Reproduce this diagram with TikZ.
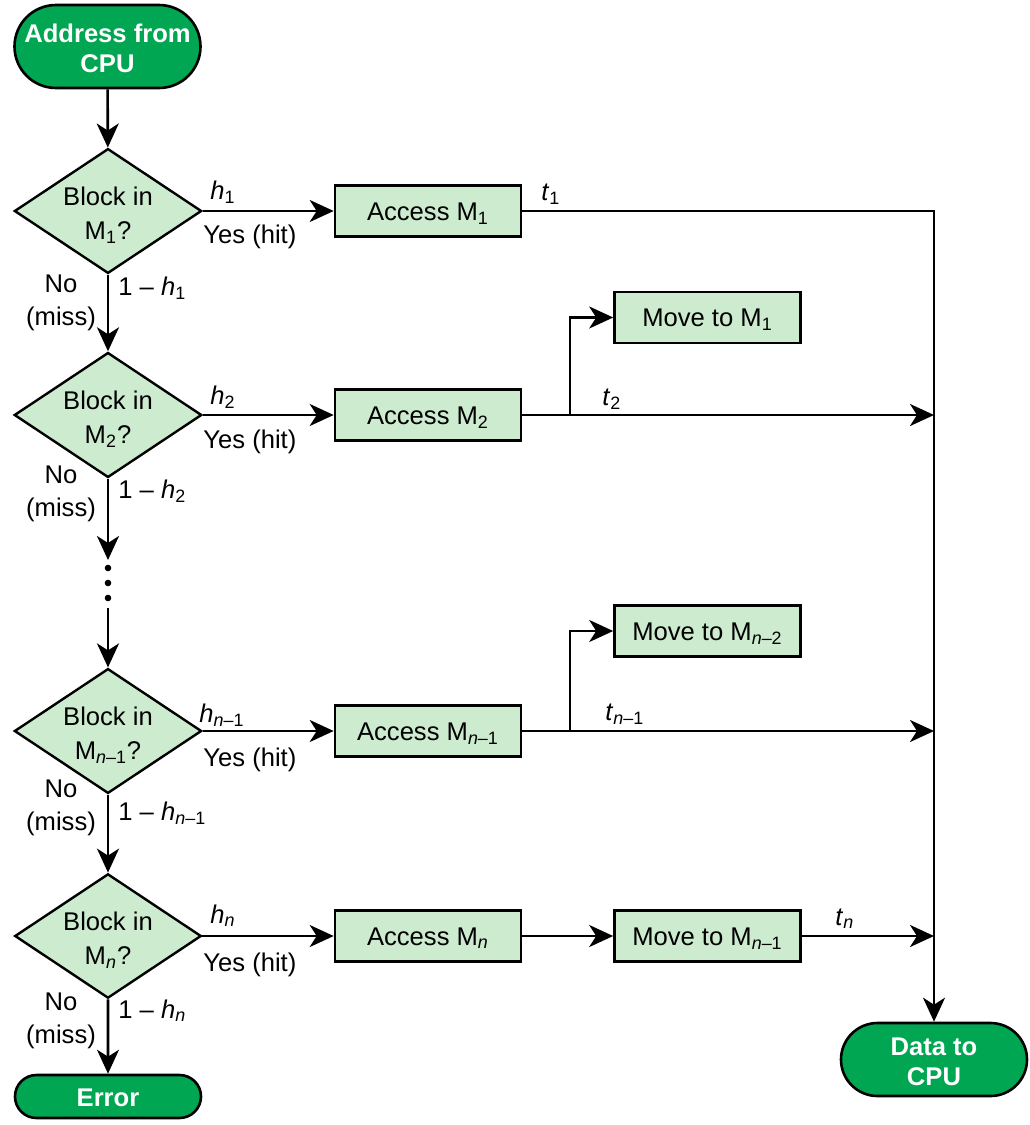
\documentclass[tikz,border=0pt]{standalone}
\usepackage{fontspec}
\setmainfont{Liberation Sans}
\usepackage{xcolor}
\usepackage{tikz}
\usetikzlibrary{shapes.geometric,shapes.misc,arrows.meta}
\definecolor{termgreen}{RGB}{0,166,81}
\definecolor{boxgreen}{RGB}{204,235,207}

\begin{document}
\begin{tikzpicture}[x=0.5pt,y=-0.5pt,
  font=\fontsize{12.8}{16.5}\selectfont,
  term/.style={rounded rectangle, draw=black, line width=1.3pt, fill=termgreen, text=white,
    font=\fontsize{12.8}{15}\selectfont\bfseries, align=center, minimum width=93pt, inner sep=0pt},
  decision/.style={diamond, draw=black, line width=1.2pt, fill=boxgreen, align=center, aspect=1.5,
    inner sep=0pt, minimum width=93pt, minimum height=61.5pt, font=\fontsize{12.8}{17}\selectfont},
  process/.style={rectangle, draw=black, line width=1.3pt, fill=boxgreen, text height=9pt, text depth=0pt,
    minimum width=93pt, minimum height=25.5pt, inner sep=0pt},
  lbl/.style={inner sep=0pt, anchor=base west},
  nolbl/.style={inner sep=0pt, align=center},
  arr/.style={line width=1.3pt, -{Stealth[length=12pt,width=11pt,inset=3.5pt]}}]
  \useasboundingbox (0,0) rectangle (1029,1125);

  % start and end
  \node[term, minimum height=41.5pt] (start) at (107.5,46.5) {\rule{0pt}{11.5pt}Address from\\CPU};
  \node[term, minimum height=36.5pt] (data) at (934,1059.5) {\rule{0pt}{11.5pt}Data to\\CPU};
  \node[term, minimum height=21.5pt, text height=10pt, text depth=0pt] (error) at (108,1096.5) {Error};

  % decisions
  \node[decision] (d1) at (108,211) {\rule{0pt}{13.5pt}Block in\\M\textsubscript{1}?};
  \node[decision] (d2) at (108,415) {\rule{0pt}{13.5pt}Block in\\M\textsubscript{2}?};
  \node[decision] (d3) at (108,731) {\rule{0pt}{13.5pt}Block in\\M\textsubscript{\textit{n}–1}?};
  \node[decision] (d4) at (108,936) {\rule{0pt}{13.5pt}Block in\\M\textsubscript{\textit{n}}?};

  % accesses
  \node[process] (acc1) at (428,211) {Access M\textsubscript{1}};
  \node[process] (acc2) at (428,415) {Access M\textsubscript{2}};
  \node[process] (accm) at (428,731) {Access M\textsubscript{\textit{n}–1}};
  \node[process] (accn) at (428,936) {Access M\textsubscript{\textit{n}}};

  % moves
  \node[process] (mv1) at (707.5,317.5) {Move to M\textsubscript{1}};
  \node[process] (mvm) at (707.5,631) {Move to M\textsubscript{\textit{n}–2}};
  \node[process] (mvn) at (707.5,936) {Move to M\textsubscript{\textit{n}–1}};

  % labels
  \node[lbl] (h1) at (210,199) {\textit{h}\textsubscript{1}};
  \node[lbl] (yes1) at (203,243) {Yes (hit)};
  \node[lbl] (mh1) at (118,295) {1 – \textit{h}\textsubscript{1}};
  \node[nolbl] (no1) at (61,303) {No\\(miss)};

  \node[lbl] (h2) at (210,404) {\textit{h}\textsubscript{2}};
  \node[lbl] (yes2) at (203,448) {Yes (hit)};
  \node[lbl] (mh2) at (118,498) {1 – \textit{h}\textsubscript{2}};
  \node[nolbl] (no2) at (61,494) {No\\(miss)};

  \node[lbl] (hm) at (199,722) {\textit{h}\textsubscript{\textit{n}–1}};
  \node[lbl] (yesm) at (203,766) {Yes (hit)};
  \node[lbl] (mhm) at (118,820) {1 – \textit{h}\textsubscript{\textit{n}–1}};
  \node[nolbl] (nom) at (61,808) {No\\(miss)};

  \node[lbl] (hn) at (210,923) {\textit{h}\textsubscript{\textit{n}}};
  \node[lbl] (yesn) at (203,971) {Yes (hit)};
  \node[lbl] (mhn) at (118,1018) {1 – \textit{h}\textsubscript{\textit{n}}};
  \node[nolbl] (non) at (61,1021) {No\\(miss)};

  \node[lbl] (t1) at (541,200) {\textit{t}\textsubscript{1}};
  \node[lbl] (t2) at (602,405) {\textit{t}\textsubscript{2}};
  \node[lbl] (tm) at (605,720) {\textit{t}\textsubscript{\textit{n}–1}};
  \node[lbl] (tn) at (835,925) {\textit{t}\textsubscript{\textit{n}}};

  % junctions
  \coordinate (j2) at (934,415);
  \coordinate (jm) at (934,731);
  \coordinate (jn) at (934,936);
  \coordinate (b2) at (570,415);
  \coordinate (bm) at (570,731);
  \coordinate (gap1) at (108,560);
  \coordinate (gap2) at (108,608);

  % down the left
  \draw[arr] (start) -- (d1);
  \draw[arr] (d1) -- (d2);
  \draw[arr] (d2) -- (gap1);
  \foreach \y in {568,583,598}
    \fill (108,\y) circle[radius=1.65pt];
  \draw[arr] (gap2) -- (d3);
  \draw[arr] (d3) -- (d4);
  \draw[arr] (d4) -- (error);

  % hits
  \draw[arr] (d1) -- (acc1);
  \draw[arr] (d2) -- (acc2);
  \draw[arr] (d3) -- (accm);
  \draw[arr] (d4) -- (accn);

  \draw[arr] (acc1) -| (data);
  \draw[arr] (acc2) -- (j2);
  \draw[arr] (b2) |- (mv1);
  \draw[arr] (accm) -- (jm);
  \draw[arr] (bm) |- (mvm);
  \draw[arr] (accn) -- (mvn);
  \draw[arr] (mvn) -- (jn);
\end{tikzpicture}
\end{document}
